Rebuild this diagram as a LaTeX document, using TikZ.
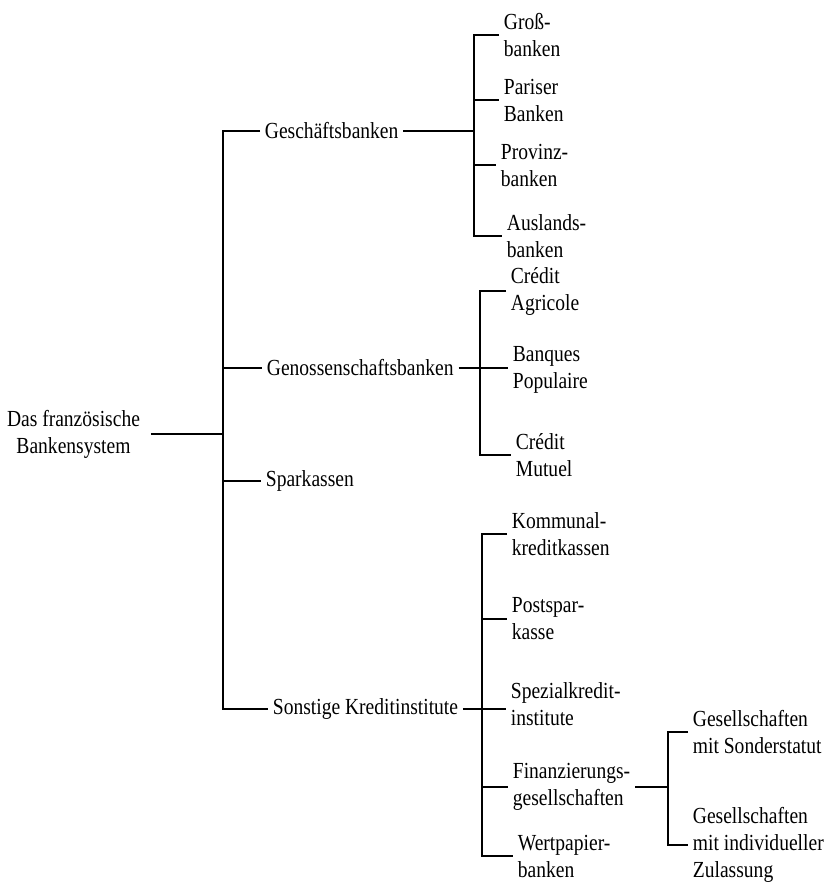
\documentclass[tikz,border=0pt]{standalone}
\usepackage{fontspec}
\setmainfont{Liberation Serif}[FakeStretch=0.85]
\usetikzlibrary{calc}

\tikzset{
  lbl/.style={anchor=west, align=left, inner xsep=4pt, inner ysep=0pt},
}

\begin{document}
\begin{tikzpicture}[x=1pt, y=-1pt, line width=1.8pt, font=\fontsize{23}{27}\selectfont]
  \useasboundingbox (0,0) rectangle (830,886);
  % root
  \node[align=center, inner xsep=10pt, inner ysep=0pt] (root) at (73.5,434) {Das französische\\Bankensystem};
  \coordinate (trunk) at (223,436);
  % first level
  \node[lbl] (gesch) at (260,131) {Geschäftsbanken};
  \node[lbl] (genoss) at (262,368) {Genossenschaftsbanken};
  \node[lbl] (spark) at (261,481) {Sparkassen};
  \node[lbl] (sonst) at (268,709) {Sonstige Kreditinstitute};
  % spines of the brackets
  \coordinate (geschbar) at (474,0);
  \coordinate (genbar) at (480,0);
  \coordinate (sonbar) at (482,0);
  \coordinate (finbar) at (668,0);
  % Geschaeftsbanken
  \node[lbl] (gross) at (499,35) {Groß-\\banken};
  \node[lbl] (pariser) at (499,100) {Pariser\\Banken};
  \node[lbl] (provinz) at (496,165) {Provinz-\\banken};
  \node[lbl] (ausland) at (502,236) {Auslands-\\banken};
  % Genossenschaftsbanken
  \node[lbl] (credag) at (506,291) {Crédit\\Agricole};
  \node[lbl] (banq) at (508,370) {Banques\\Populaire};
  \node[lbl] (credmu) at (511,455) {Crédit\\Mutuel};
  % Sonstige Kreditinstitute
  \node[lbl] (kommunal) at (507,534) {Kommunal-\\kreditkassen};
  \node[lbl] (postspar) at (507,619) {Postspar-\\kasse};
  \node[lbl] (spezial) at (506,704) {Spezialkredit-\\institute};
  \node[lbl] (finanz) at (508,787) {Finanzierungs-\\gesellschaften};
  \node[lbl] (wertpap) at (513,856) {Wertpapier-\\banken};
  % Finanzierungsgesellschaften
  \node[lbl] (ges1) at (688,732) {Gesellschaften\\mit Sonderstatut};
  \node[lbl] (ges2) at (688,845) {Gesellschaften\\mit individueller\\Zulassung};

  % trunk
  \draw (root.east) -- (root.east -| trunk);
  \draw (gesch.west) -- (gesch.west -| trunk) -- (sonst.west -| trunk) -- (sonst.west);
  \foreach \n in {genoss,spark}
    \draw (\n.west -| trunk) -- (\n.west);
  % Geschaeftsbanken
  \draw (gesch.east) -- (gesch.east -| geschbar);
  \draw (gross.west) -- (gross.west -| geschbar) -- (ausland.west -| geschbar) -- (ausland.west);
  \foreach \n in {pariser,provinz}
    \draw (\n.west -| geschbar) -- (\n.west);
  % Genossenschaftsbanken
  \draw (genoss.east) -- (genoss.east -| banq.west);
  \draw (credag.west) -- (credag.west -| genbar) -- (credmu.west -| genbar) -- (credmu.west);
  % Sonstige Kreditinstitute
  \draw (sonst.east) -- (sonst.east -| spezial.west);
  \draw (kommunal.west) -- (kommunal.west -| sonbar) -- (wertpap.west -| sonbar) -- (wertpap.west);
  \foreach \n in {postspar,finanz}
    \draw (\n.west -| sonbar) -- (\n.west);
  % Finanzierungsgesellschaften
  \draw (finanz.east) -- (finanz.east -| finbar);
  \draw (ges1.west) -- (ges1.west -| finbar) -- (ges2.west -| finbar) -- (ges2.west);
\end{tikzpicture}
\end{document}
